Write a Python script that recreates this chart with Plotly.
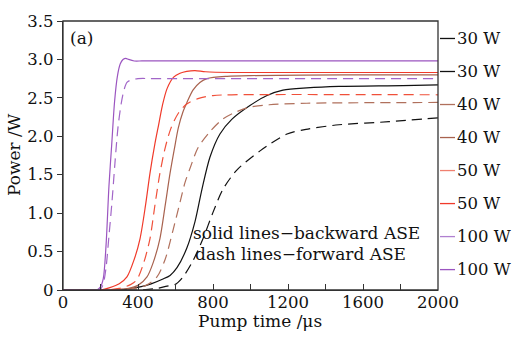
import plotly.graph_objects as go

# ---------------- data ----------------
# 100 W
t_p_solid = [0, 150, 180, 200, 215, 230, 245, 260, 275, 290, 305, 320, 335, 350, 380, 420, 500, 2000]
v_p_solid = [0, 0, 0.0, 0.04, 0.15, 0.6, 1.35, 1.9, 2.45, 2.78, 2.94, 3.0, 3.015, 3.0, 2.98, 2.98, 2.98, 2.98]
t_p_dash = [0, 180, 200, 215, 230, 245, 261, 277, 293, 310, 325, 341, 360, 400, 500, 2000]
v_p_dash = [0, 0, 0.01, 0.08, 0.3, 0.7, 1.14, 1.65, 2.11, 2.42, 2.6, 2.70, 2.73, 2.75, 2.75, 2.75]
# 50 W
t_r_solid = [0, 200, 250, 300, 341, 380, 411, 440, 464, 490, 510, 530, 555, 590, 624, 660, 704, 760, 900, 2000]
v_r_solid = [0, 0, 0.03, 0.08, 0.17, 0.4, 0.67, 1.1, 1.52, 1.9, 2.15, 2.4, 2.62, 2.77, 2.82, 2.845, 2.855, 2.84, 2.83, 2.83]
t_r_dash = [0, 220, 300, 360, 393, 430, 464, 490, 517, 545, 575, 615, 660, 720, 800, 900, 2000]
v_r_dash = [0, 0, 0.02, 0.07, 0.13, 0.35, 0.67, 1.1, 1.52, 1.85, 2.1, 2.3, 2.42, 2.49, 2.53, 2.54, 2.54]
# 40 W
t_b_solid = [0, 250, 350, 400, 448, 480, 517, 545, 571, 595, 615, 640, 661, 693, 730, 768, 875, 1000, 1500, 2000]
v_b_solid = [0, 0, 0.02, 0.06, 0.17, 0.35, 0.67, 1.1, 1.52, 1.85, 2.11, 2.32, 2.44, 2.6, 2.7, 2.75, 2.78, 2.79, 2.8, 2.8]
t_b_dash = [0, 300, 400, 450, 501, 545, 587, 624, 651, 680, 720, 784, 850, 907, 997, 1100, 1300, 2000]
v_b_dash = [0, 0, 0.03, 0.07, 0.17, 0.4, 0.78, 1.14, 1.4, 1.6, 1.85, 2.06, 2.22, 2.3, 2.38, 2.41, 2.43, 2.44]
# 30 W
t_k_solid = [0, 300, 411, 470, 530, 571, 608, 661, 704, 741, 784, 837, 900, 997, 1088, 1173, 1300, 1472, 1813, 2000]
v_k_solid = [0, 0, 0.04, 0.08, 0.14, 0.19, 0.29, 0.55, 0.89, 1.31, 1.73, 2.03, 2.22, 2.40, 2.53, 2.6, 2.63, 2.65, 2.66, 2.67]
t_k_dash = [0, 400, 500, 555, 597, 640, 693, 747, 800, 853, 927, 1051, 1195, 1296, 1472, 1739, 2000]
v_k_dash = [0, 0, 0.02, 0.05, 0.07, 0.17, 0.38, 0.67, 1.01, 1.31, 1.56, 1.81, 2.03, 2.09, 2.15, 2.19, 2.24]

series = [
    (t_k_solid, v_k_solid, "#111111", "solid"),
    (t_k_dash, v_k_dash, "#111111", "10px,6px"),
    (t_b_solid, v_b_solid, "#A8624E", "solid"),
    (t_b_dash, v_b_dash, "#B0705C", "10px,6px"),
    (t_r_solid, v_r_solid, "#F03A2A", "solid"),
    (t_r_dash, v_r_dash, "#F0503A", "10px,6px"),
    (t_p_solid, v_p_solid, "#9B55C0", "solid"),
    (t_p_dash, v_p_dash, "#A266C8", "10px,6px"),
]

legend_labels = ["30 W", "30 W", "40 W", "40 W", "50 W", "50 W", "100 W", "100 W"]
legend_colors = ["#111111", "#111111", "#B0705C", "#A8624E", "#F08070", "#F03A2A", "#B080D0", "#9B55C0"]

y_tick_vals = [0, 0.5, 1.0, 1.5, 2.0, 2.5, 3.0, 3.5]
y_tick_text = ["0", "0.5", "1.0", "1.5", "2.0", "2.5", "3.0", "3.5"]
x_tick_vals = [0, 400, 800, 1200, 1600, 2000]

FONT = "DejaVu Serif"
TICK_SIZE = 16.5
TEXT_SIZE = 17

fig = go.Figure()
for t, v, c, d in series:
    fig.add_trace(go.Scatter(x=t, y=v, mode="lines",
                             line=dict(color=c, width=1.2, dash=d, shape="spline", smoothing=0.8),
                             showlegend=False, hoverinfo="skip"))

L, R, T, B = 63, 74, 13, 47
W, H = 512, 337
pw, ph = W - L - R, H - T - B

fig.update_layout(
    width=W, height=H,
    margin=dict(l=L, r=R, t=T, b=B),
    paper_bgcolor="white", plot_bgcolor="white",
    font=dict(family=FONT, size=TICK_SIZE, color="#111111"),
    showlegend=False,
)
fig.update_xaxes(range=[0, 2000], tickvals=x_tick_vals, ticks="inside", ticklen=6,
                 tickcolor="#333", showgrid=False, zeroline=False,
                 showline=True, linecolor="#333", linewidth=1.3,
                 ticklabelstandoff=-3,
                 minor=dict(dtick=200, tick0=0, ticks="inside", ticklen=6, tickcolor="#333", showgrid=False),
                 tickfont=dict(size=TICK_SIZE, family=FONT))
fig.update_yaxes(range=[0, 3.5], tickvals=y_tick_vals, ticktext=y_tick_text, ticks="outside",
                 ticklen=5, tickcolor="#333", showgrid=False, zeroline=False,
                 showline=True, linecolor="#333", linewidth=1.3,
                 ticklabelstandoff=0,
                 tickfont=dict(size=TICK_SIZE, family=FONT))

# frame
fig.add_shape(type="rect", xref="paper", yref="paper", x0=0, x1=1, y0=0, y1=1,
              line=dict(color="#333", width=1.3))

# legend on the right
for i, (lab, col) in enumerate(zip(legend_labels, legend_colors)):
    yc = 31 + i * 34.0
    yp = (T + ph - yc) / ph
    fig.add_shape(type="line", xref="paper", yref="paper",
                  x0=(440 - L) / pw, x1=(455 - L) / pw, y0=yp, y1=yp,
                  line=dict(color=col, width=1.3))
    fig.add_annotation(xref="paper", yref="paper", x=(455 - L) / pw, y=yp, text=lab,
                       showarrow=False, xanchor="left", yanchor="middle",
                       font=dict(family=FONT, size=TICK_SIZE, color="#111111"))

def ann(x_px, y_px, text, xanchor="left", size=TEXT_SIZE, angle=0):
    fig.add_annotation(xref="paper", yref="paper", x=(x_px - L) / pw, y=(T + ph - y_px) / ph,
                       text=text, showarrow=False, xanchor=xanchor, yanchor="middle",
                       textangle=angle, font=dict(family=FONT, size=size, color="#111111"))

ann(68, 30, "(a)")
ann(191, 231, "solid lines\u2212backward ASE")
ann(193, 253, "dash lines\u2212forward ASE")
ann(260, 322, "Pump time /\u03bcs", xanchor="center")
ann(14, 151, "Power /W", xanchor="center", angle=-90)

fig.write_html("out.html")
